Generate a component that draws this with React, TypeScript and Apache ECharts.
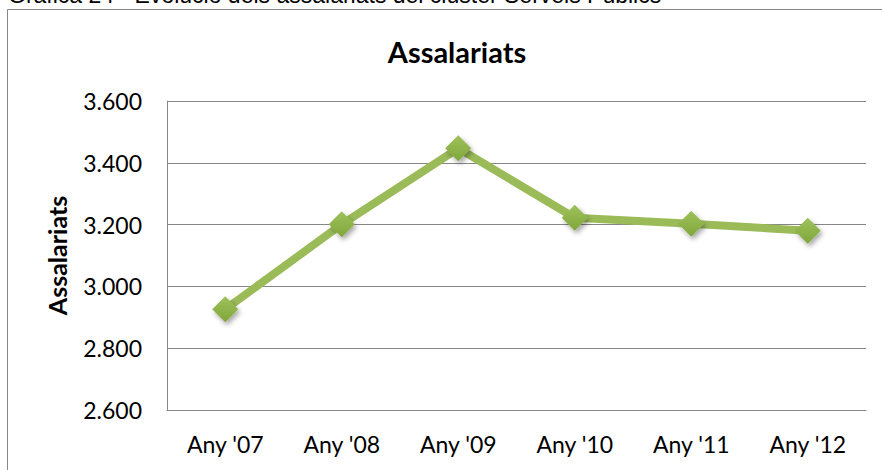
import React, { useEffect, useRef } from "react";
import * as echarts from "echarts";

const categories = ["Any '07", "Any '08", "Any '09", "Any '10", "Any '11", "Any '12"];
const values = [2926, 3201, 3447, 3222, 3203, 3180];
const yMin = 2600;
const yMax = 3600;
const yStep = 200;
const chartTitle = "Assalariats";
const yName = "Assalariats";
const caption = "Gràfica 24 - Evolució dels assalariats del clúster Serveis Públics";

const fmt = (v: number) => {
  const s = String(Math.round(v));
  return s.replace(/\B(?=(\d{3})+(?!\d))/g, ".");
};

export default function App() {
  const ref = useRef<HTMLDivElement>(null);
  useEffect(() => {
    if (!ref.current) return;
    const chart = echarts.init(ref.current, null, { renderer: "svg" });
    chart.setOption({
      animation: false,
      backgroundColor: "#ffffff",
      title: {
        text: chartTitle,
        left: 452,
        textAlign: "center",
        top: 32,
        textStyle: { fontFamily: "Lato", fontWeight: "bold", fontSize: 29, color: "#000" },
      },
      graphic: [
        {
          type: "rect",
          shape: { x: 7.5, y: 9.5, width: 900, height: 500 },
          style: { fill: "none", stroke: "#868686", lineWidth: 1 },
          silent: true,
        },
        {
          type: "text",
          x: 8,
          y: -5,
          style: {
            text: caption,
            font: "23px 'Liberation Sans', Arial, sans-serif",
            fill: "#000",
            verticalAlign: "middle",
            align: "left",
          },
          silent: true,
        },
      ],
      grid: { left: 167, right: 16, top: 101, bottom: 60, containLabel: false },
      xAxis: {
        type: "category",
        data: categories,
        boundaryGap: true,
        axisLine: { show: true, lineStyle: { color: "#868686", width: 1 } },
        axisTick: { show: false },
        axisLabel: { fontFamily: "Lato", fontSize: 23, color: "#000", margin: 22 },
        splitLine: { show: false },
      },
      yAxis: {
        type: "value",
        min: yMin,
        max: yMax,
        interval: yStep,
        name: yName,
        nameLocation: "middle",
        nameGap: 98,
        nameRotate: 90,
        nameTextStyle: { fontFamily: "Lato", fontWeight: "bold", fontSize: 25, color: "#000" },
        axisLine: { show: true, lineStyle: { color: "#868686", width: 1 } },
        axisTick: { show: false },
        axisLabel: { fontFamily: "Lato", fontSize: 23, color: "#000", margin: 25, formatter: fmt },
        splitLine: { show: true, lineStyle: { color: "#868686", width: 1 } },
      },
      series: [
        {
          type: "line",
          data: values,
          symbol: "diamond",
          symbolSize: 26,
          lineStyle: { color: "#9BBB59", width: 8 },
          itemStyle: {
            color: new echarts.graphic.LinearGradient(0, 0, 0, 1, [
              { offset: 0, color: "#9FC25C" },
              { offset: 1, color: "#7FA63A" },
            ]),
            shadowBlur: 5,
            shadowOffsetX: 2,
            shadowOffsetY: 3,
            shadowColor: "rgba(0,0,0,0.35)",
          },
          z: 3,
        },
      ],
    });
    return () => chart.dispose();
  }, []);
  return (
    <div
      ref={ref}
      style={{ position: "fixed", left: 0, top: 0, width: 882, height: 470 }}
    />
  );
}
